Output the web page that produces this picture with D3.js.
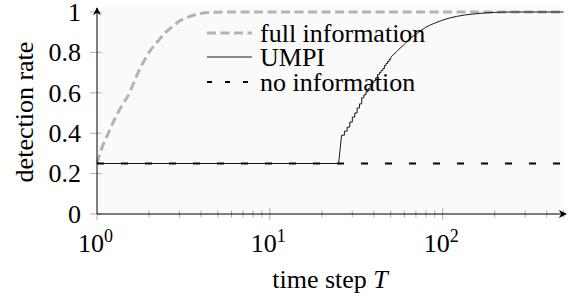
<!DOCTYPE html>
<html><head><meta charset="utf-8">
<script src="https://cdn.jsdelivr.net/npm/d3@7"></script>
</head><body style="margin:0">
<svg id="c" width="571" height="296"></svg>
<script>
// ---- data ----
const seriesNames = ["full information", "UMPI", "no information"];
const fullT = [1, 1.07, 1.15, 1.25, 1.4, 1.5, 1.75, 2, 2.25, 2.5, 2.75, 3, 3.5, 4, 5, 6, 500];
const fullV = [0.25, 0.33, 0.39, 0.46, 0.54, 0.58, 0.71, 0.8, 0.855, 0.9, 0.93, 0.955, 0.98, 0.993, 0.999, 1.0, 1.0];
const umpiT = [1, 25, 26, 27, 28, 29, 30, 31, 32, 33, 34, 35, 36, 37, 38, 39, 40, 41, 42, 43, 44, 45, 46, 47, 48, 49, 50,
               55, 60, 65, 70, 80, 90, 100, 120, 150, 200, 250, 500];
const umpiV = [0.25, 0.25, 0.39, 0.41, 0.43, 0.455, 0.48, 0.50, 0.525, 0.545, 0.575, 0.59, 0.605, 0.62, 0.635, 0.65, 0.66, 0.675, 0.69, 0.70, 0.71, 0.72, 0.735, 0.745, 0.755, 0.765, 0.775,
               0.81, 0.84, 0.87, 0.89, 0.925, 0.945, 0.96, 0.978, 0.99, 0.998, 1.0, 1.0];
const noT = [1, 500];
const noV = [0.25, 0.25];
const yTickValues = [0, 0.2, 0.4, 0.6, 0.8, 1];
const yTickLabels = ["0", "0.2", "0.4", "0.6", "0.8", "1"];
const xMajorTicks = [1, 10, 100];
const xMajorExp = ["0", "1", "2"];
const xLabel = "time step ";
const xLabelVar = "T";
const yLabel = "detection rate";

// ---- layout ----
const svg = d3.select("#c");
const x = d3.scaleLog().domain([1, 500]).range([97, 563.5]);
const y = d3.scaleLinear().domain([0, 1]).range([214, 12]);

const defs = svg.append("defs");
defs.append("marker").attr("id", "arr").attr("viewBox", "0 0 10 10")
  .attr("refX", 9).attr("refY", 5).attr("markerWidth", 8).attr("markerHeight", 8)
  .attr("markerUnits", "userSpaceOnUse").attr("orient", "auto")
  .append("path").attr("d", "M0,0 L10,5 L0,10 L3,5 Z").attr("fill", "#000");

// background
svg.append("rect").attr("x", 97).attr("y", 7).attr("width", 467).attr("height", 207).attr("fill", "#fafafa");

// ticks
const tickColor = "#9a9a9a";
const allX = x.ticks();
svg.append("g").selectAll("line").data(allX.filter(d => d > 1)).join("line")
  .attr("x1", d => x(d)).attr("x2", d => x(d))
  .attr("y1", d => xMajorTicks.includes(d) ? 208 : 210.5)
  .attr("y2", d => xMajorTicks.includes(d) ? 220 : 217.5)
  .attr("stroke", tickColor).attr("stroke-width", 0.8);
svg.append("line").attr("x1", 97).attr("x2", 97).attr("y1", 214).attr("y2", 220).attr("stroke", tickColor).attr("stroke-width", 0.8);

svg.append("g").selectAll("line").data(yTickValues).join("line")
  .attr("x1", 90).attr("x2", 101.5).attr("y1", d => y(d)).attr("y2", d => y(d))
  .attr("stroke", tickColor).attr("stroke-width", 0.8);

// series
const fullPts = fullT.map((t, i) => [t, fullV[i]]);
svg.append("path").attr("d", d3.line().x(d => x(d[0])).y(d => y(d[1])).curve(d3.curveMonotoneX)(fullPts))
  .attr("fill", "none").attr("stroke", "#b3b3b3").attr("stroke-width", 3).attr("stroke-dasharray", "9,4.5");

const umpiPts = umpiT.map((t, i) => [t, umpiV[i]]);
const i26 = umpiT.indexOf(26);
const i50 = umpiT.indexOf(50);
const umpiStyle = p => p.attr("fill", "none").attr("stroke", "#000").attr("stroke-width", 0.9);
umpiStyle(svg.append("path").attr("d", d3.line().x(d => x(d[0])).y(d => y(d[1]))(umpiPts.slice(0, i26 + 1))));
umpiStyle(svg.append("path").attr("d", d3.line().x(d => x(d[0])).y(d => y(d[1])).curve(d3.curveStepAfter)(umpiPts.slice(i26, i50 + 1))));
umpiStyle(svg.append("path").attr("d", d3.line().x(d => x(d[0])).y(d => y(d[1])).curve(d3.curveMonotoneX)(umpiPts.slice(i50))));

const noPts = noT.map((t, i) => [t, noV[i]]);
svg.append("path").attr("d", d3.line().x(d => x(d[0])).y(d => y(d[1]))(noPts))
  .attr("fill", "none").attr("stroke", "#000").attr("stroke-width", 2).attr("stroke-dasharray", "7,17");

// axes lines with arrows
svg.append("line").attr("x1", 97).attr("x2", 97).attr("y1", 214).attr("y2", 8)
  .attr("stroke", "#000").attr("stroke-width", 1).attr("marker-end", "url(#arr)");
svg.append("line").attr("x1", 97).attr("x2", 566).attr("y1", 214).attr("y2", 214)
  .attr("stroke", "#000").attr("stroke-width", 1).attr("marker-end", "url(#arr)");

// helper to create serif text
function txt(sel) {
  return sel.style("font-family", '"Liberation Serif"').attr("font-family", "Liberation Serif");
}

// tick labels
txt(svg.append("g").selectAll("text").data(yTickValues).join("text"))
  .attr("x", 81).attr("y", d => y(d)).attr("dy", "0.34em").attr("text-anchor", "end")
  .attr("font-size", 26).text((d, i) => yTickLabels[i]);

const xl = txt(svg.append("g").selectAll("text").data(xMajorTicks).join("text"))
  .attr("x", d => x(d) - 19).attr("y", 252).attr("font-size", 26);
xl.append("tspan").text("10");
xl.append("tspan").attr("dy", -10).attr("font-size", 18).text((d, i) => xMajorExp[i]);

// axis labels
const xt = txt(svg.append("text")).attr("x", 330).attr("y", 288).attr("text-anchor", "middle").attr("font-size", 26);
xt.append("tspan").text(xLabel);
xt.append("tspan").attr("font-style", "italic").text(xLabelVar);
txt(svg.append("text")).attr("transform", "translate(33,112) rotate(-90)").attr("text-anchor", "middle")
  .attr("font-size", 26).text(yLabel);

// legend
const leg = svg.append("g");
const legY = [33, 57, 82];
const legStyles = [
  {stroke: "#b3b3b3", w: 3, dash: "9,4.5"},
  {stroke: "#000", w: 0.9, dash: null},
  {stroke: "#000", w: 2, dash: "5,13"}
];
seriesNames.forEach((n, i) => {
  leg.append("line").attr("x1", 207).attr("x2", 252).attr("y1", legY[i]).attr("y2", legY[i])
    .attr("stroke", legStyles[i].stroke).attr("stroke-width", legStyles[i].w)
    .attr("stroke-dasharray", legStyles[i].dash);
  txt(leg.append("text")).attr("x", 260).attr("y", legY[i]).attr("dy", "0.33em").attr("font-size", 26).text(n);
});
</script>
</body></html>
